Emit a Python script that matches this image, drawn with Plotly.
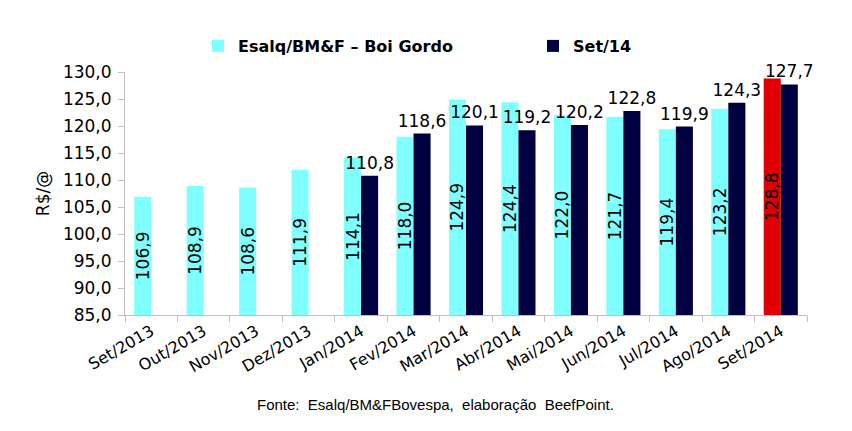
import plotly.graph_objects as go

categories = ["Set/2013", "Out/2013", "Nov/2013", "Dez/2013", "Jan/2014", "Fev/2014",
              "Mar/2014", "Abr/2014", "Mai/2014", "Jun/2014", "Jul/2014", "Ago/2014", "Set/2014"]
esalq = [106.9, 108.9, 108.6, 111.9, 114.1, 118.0, 124.9, 124.4, 122.0, 121.7, 119.4, 123.2, 128.8]
set14 = [None, None, None, None, 110.8, 118.6, 120.1, 119.2, 120.2, 122.8, 119.9, 124.3, 127.7]
y_ticks = [85, 90, 95, 100, 105, 110, 115, 120, 125, 130]
Y_MIN, Y_MAX = 85, 130

CYAN = "#80FFFF"
NAVY = "#000040"
RED = "#E00000"
FONT = "Verdana, DejaVu Sans, sans-serif"

esalq_colors = [CYAN] * (len(esalq) - 1) + [RED]
fmt = lambda v: ("%.1f" % v).replace(".", ",") if v is not None else ""
above = lambda vals: [None if v is None else v - Y_MIN for v in vals]

# plot area in pixels
L, R, T, B = 125, 807, 72, 315
W, H = 852, 431

def px_x(x):
    return (x - L) / (R - L)

def px_y(y):
    return (B - y) / (B - T)

fig = go.Figure()
fig.add_trace(go.Bar(
    x=categories, y=above(esalq), base=Y_MIN, name="Esalq/BM&F – Boi Gordo",
    marker=dict(color=esalq_colors, line=dict(width=0)),
    text=[fmt(v) for v in esalq], textposition="inside", insidetextanchor="middle",
    textangle=-90, constraintext="none",
    textfont=dict(family=FONT, size=17, color="black"),
    legend="legend", showlegend=True, hoverinfo="x+text",
))
fig.add_trace(go.Bar(
    x=categories, y=above(set14), base=Y_MIN, name="Set/14",
    marker=dict(color=NAVY, line=dict(width=0)),
    text=[fmt(v) for v in set14], textposition="outside", constraintext="none",
    textangle=0, textfont=dict(family=FONT, size=17, color="black"),
    cliponaxis=False, legend="legend2", showlegend=True, hoverinfo="x+text",
))

legend_font = dict(family=FONT, size=16, color="black", weight="bold")
fig.update_layout(
    width=W, height=H, showlegend=True,
    margin=dict(l=L, r=W - R, t=T, b=H - B, autoexpand=False),
    plot_bgcolor="white", paper_bgcolor="white",
    separators=",.",
    barmode="group", bargap=0.35, bargroupgap=0,
    font=dict(family=FONT, size=17, color="black"),
    legend=dict(orientation="h", x=px_x(198), xanchor="left", y=px_y(46), yanchor="middle",
                font=legend_font, bgcolor="rgba(0,0,0,0)"),
    legend2=dict(orientation="h", x=px_x(533), xanchor="left", y=px_y(46), yanchor="middle",
                 font=legend_font, bgcolor="rgba(0,0,0,0)"),
    xaxis=dict(type="category", tickangle=-30, tickson="boundaries", ticks="outside",
               ticklen=6, tickcolor="#c0c0c0", showline=True, linecolor="#c0c0c0",
               linewidth=1, showgrid=False, tickfont=dict(family=FONT, size=16)),
    yaxis=dict(range=[Y_MIN, Y_MAX], tickvals=y_ticks, tickformat=".1f", ticks="outside",
               ticklen=6, tickcolor="#c0c0c0", showline=True, linecolor="#c0c0c0",
               linewidth=1, showgrid=False, zeroline=False, ticklabelstandoff=3,
               title=dict(text="R$/@", font=dict(family=FONT, size=17), standoff=8),
               tickfont=dict(family=FONT, size=17)),
    annotations=[dict(text="Fonte:  Esalq/BM&FBovespa,  elaboração  BeefPoint.",
                      x=px_x(435), xref="paper", y=px_y(405), yref="paper",
                      xanchor="center", yanchor="middle", showarrow=False,
                      font=dict(family="Liberation Sans, Arial, sans-serif", size=15, color="black"))],
)

fig.write_html("out.html", config={"displayModeBar": False},
               post_script="document.body.style.margin='0';")
